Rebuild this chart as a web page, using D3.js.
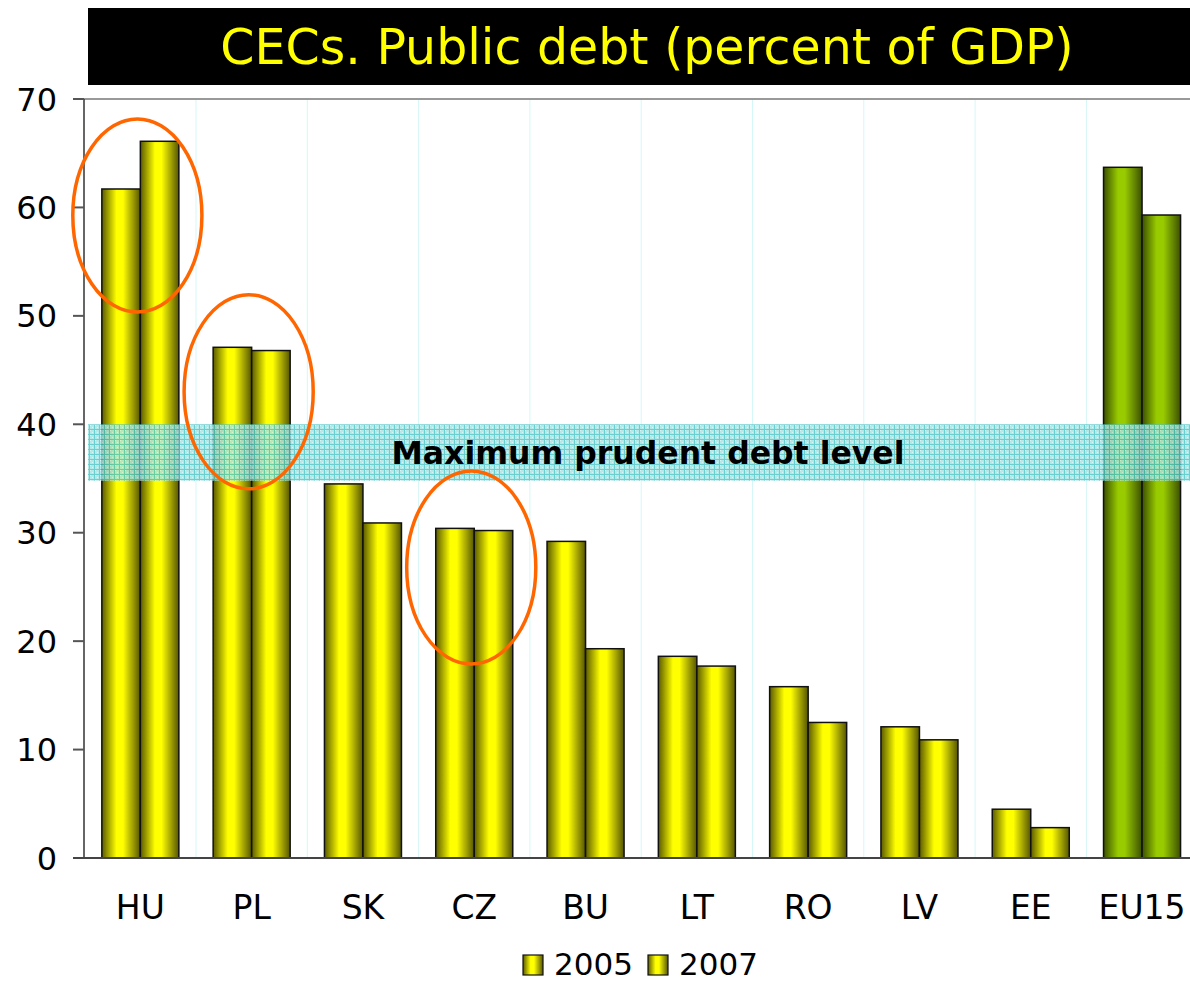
<!DOCTYPE html>
<html><head><meta charset="utf-8">
<script src="https://cdn.jsdelivr.net/npm/d3@7"></script>
<style>html,body{margin:0;padding:0;background:#fff;}svg{display:block;}</style>
</head><body>
<script>
const categories = ["HU","PL","SK","CZ","BU","LT","RO","LV","EE","EU15"];
const seriesNames = ["2005","2007"];
const values2005 = [61.7, 47.1, 34.5, 30.4, 29.2, 18.6, 15.8, 12.1, 4.5, 63.7];
const values2007 = [66.1, 46.8, 30.9, 30.2, 19.3, 17.7, 12.5, 10.9, 2.8, 59.3];
const yTicks = [0,10,20,30,40,50,60,70];
const titleText = "CECs. Public debt (percent of GDP)";
const bandRange = [34.8, 40];
const bandLabel = "Maximum prudent debt level";
const highlights = [
  {cat:"HU", mid:59.25, half:8.9},
  {cat:"PL", mid:43.0, half:8.95},
  {cat:"CZ", mid:26.8, half:8.9}
];

const W = 1190, H = 982;
const svg = d3.select("body").append("svg").attr("width", W).attr("height", H);
const defs = svg.append("defs");

function cyl(id, edgeL, mid, edgeR) {
  const g = defs.append("linearGradient").attr("id", id).attr("x1","0").attr("x2","1").attr("y1","0").attr("y2","0");
  g.append("stop").attr("offset","0%").attr("stop-color", edgeL);
  g.append("stop").attr("offset","38%").attr("stop-color", mid);
  g.append("stop").attr("offset","55%").attr("stop-color", mid);
  g.append("stop").attr("offset","100%").attr("stop-color", edgeR);
}
cyl("gy", "#5a5a00", "#ffff00", "#555500");
cyl("gg", "#3b5000", "#99cc00", "#3b5000");

const pat = defs.append("pattern").attr("id","hatch").attr("patternUnits","userSpaceOnUse")
  .attr("width",5).attr("height",5);
pat.append("rect").attr("width",5).attr("height",5).attr("fill","#a2e4e4");
pat.append("rect").attr("x",0).attr("y",0).attr("width",1).attr("height",1).attr("fill","#ffffff").attr("opacity",0.5);
pat.append("rect").attr("x",2).attr("y",2).attr("width",1).attr("height",1).attr("fill","#ffffff").attr("opacity",0.5);
pat.append("rect").attr("x",0).attr("y",4).attr("width",5).attr("height",1).attr("fill","#4cc4c4");
pat.append("rect").attr("x",4).attr("y",0).attr("width",1).attr("height",5).attr("fill","#4cc4c4");

const x0 = 84.7, step = 111.3;
const x = d3.scaleBand().domain(categories).range([x0, x0 + step*categories.length])
  .paddingInner(0.308).paddingOuter(0.154);
const xs = d3.scaleBand().domain(seriesNames).range([0, x.bandwidth()]);
const y = d3.scaleLinear().domain([0,70]).range([858, 99]);

// title
svg.append("rect").attr("x",88).attr("y",8).attr("width",1102).attr("height",77).attr("fill","#000");
svg.append("text").attr("x",647).attr("y",64).attr("text-anchor","middle")
  .attr("font-family","Verdana, 'DejaVu Sans', sans-serif").attr("font-size",49)
  .attr("fill","#ffff00").text(titleText);

// vertical gridlines at category boundaries
svg.append("g").selectAll("line").data(categories.slice(1)).join("line")
  .attr("x1", d => x(d) - x.step()*x.paddingInner()/2).attr("x2", d => x(d) - x.step()*x.paddingInner()/2)
  .attr("y1", y(70)).attr("y2", y(0)).attr("stroke","#d6f7f7").attr("stroke-width",1);

// top border
svg.append("line").attr("x1",73).attr("x2",W).attr("y1",y(70)).attr("y2",y(70)).attr("stroke","#999").attr("stroke-width",2);

// bars
const data = categories.map((c,i) => ({cat:c, vals:[{s:"2005", v:values2005[i]},{s:"2007", v:values2007[i]}]}));
const groups = svg.append("g").selectAll("g").data(data).join("g")
  .attr("transform", d => `translate(${x(d.cat)},0)`);
groups.selectAll("rect").data(d => d.vals.map(v => ({...v, cat:d.cat}))).join("rect")
  .attr("x", d => xs(d.s)).attr("width", xs.bandwidth())
  .attr("y", d => y(d.v)).attr("height", d => y(0) - y(d.v))
  .attr("fill", d => d.cat === "EU15" ? "url(#gg)" : "url(#gy)")
  .attr("stroke","#111").attr("stroke-width",1.5);

// band
svg.append("rect").attr("x",88).attr("width",W-88)
  .attr("y", y(bandRange[1])).attr("height", y(bandRange[0]) - y(bandRange[1]))
  .attr("fill","url(#hatch)").attr("opacity",0.82);
svg.append("text").attr("x",648).attr("y", y((bandRange[0]+bandRange[1])/2) + 12)
  .attr("text-anchor","middle").attr("font-family","Verdana, 'DejaVu Sans', sans-serif")
  .attr("font-weight","bold").attr("font-size",31.5).attr("fill","#000").text(bandLabel);

// axes
const yAxisG = svg.append("g");
yAxisG.append("line").attr("x1",84).attr("x2",84).attr("y1",y(70)).attr("y2",y(0)).attr("stroke","#333").attr("stroke-width",1.5);
yAxisG.selectAll("line.t").data(yTicks).join("line").attr("class","t")
  .attr("x1",73).attr("x2",84).attr("y1",d=>y(d)).attr("y2",d=>y(d)).attr("stroke","#555").attr("stroke-width",2);
yAxisG.selectAll("text").data(yTicks).join("text")
  .attr("x",57).attr("y",d=>y(d)).attr("dy","0.36em").attr("text-anchor","end")
  .attr("font-family","Verdana, 'DejaVu Sans', sans-serif").attr("font-size",32).attr("fill","#000").text(d=>d);
svg.append("line").attr("x1",73).attr("x2",W).attr("y1",y(0)).attr("y2",y(0)).attr("stroke","#444").attr("stroke-width",2);

svg.append("g").selectAll("text").data(categories).join("text")
  .attr("x", d => x(d) + x.bandwidth()/2).attr("y", 919).attr("text-anchor","middle")
  .attr("font-family","Verdana, 'DejaVu Sans', sans-serif").attr("font-size",33).attr("fill","#000").text(d=>d);

// ellipses
svg.append("g").selectAll("ellipse").data(highlights).join("ellipse")
  .attr("cx", d => x(d.cat) + x.bandwidth()/2 - 3)
  .attr("cy", d => y(d.mid))
  .attr("rx", x.step()*0.58)
  .attr("ry", d => y(d.mid - d.half) - y(d.mid))
  .attr("fill","none").attr("stroke","#ff6600").attr("stroke-width",3.5);

// legend
const leg = svg.append("g");
const legX = [523, 648];
seriesNames.forEach((s,i) => {
  leg.append("rect").attr("x",legX[i]).attr("y",955).attr("width",20).attr("height",20)
    .attr("fill","url(#gy)").attr("stroke","#111").attr("stroke-width",1.2);
  leg.append("text").attr("x",legX[i]+31).attr("y",975)
    .attr("font-family","Verdana, 'DejaVu Sans', sans-serif").attr("font-size",31).attr("fill","#000").text(s);
});
</script>
</body></html>
